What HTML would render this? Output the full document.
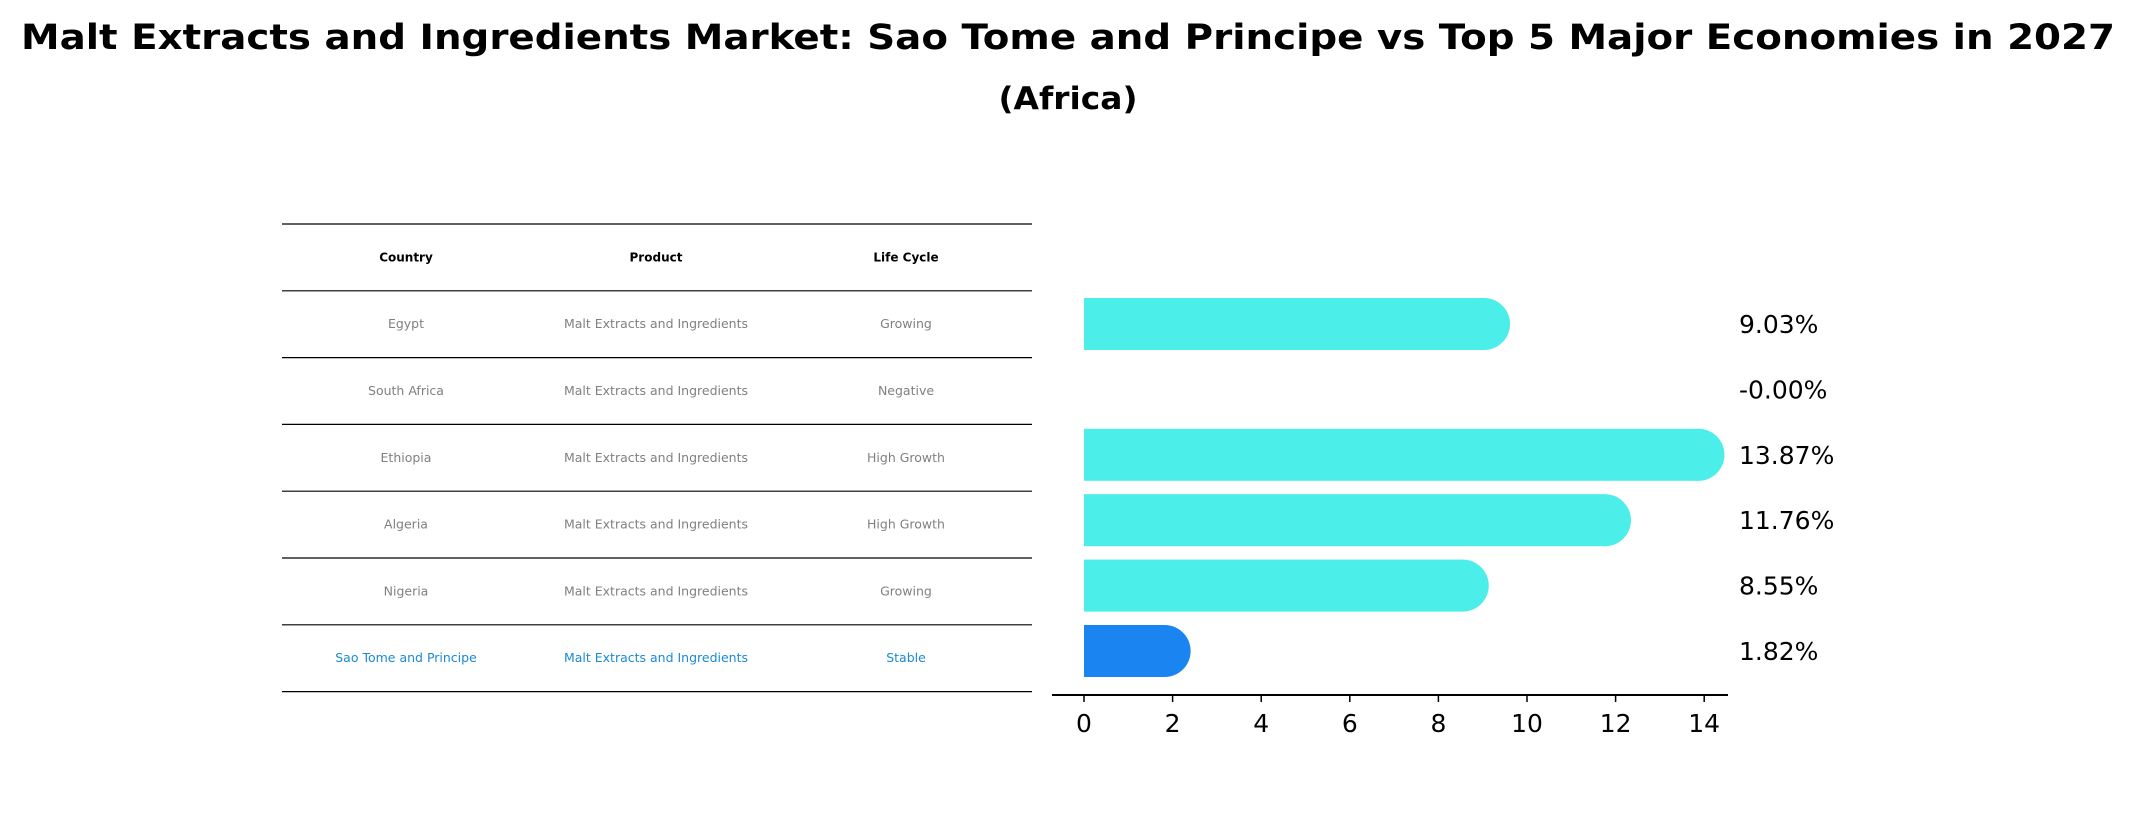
<!DOCTYPE html>
<html><head><meta charset="utf-8"><style>
body{margin:0;background:#fff;}
svg{display:block;font-family:"DejaVu Sans","Liberation Sans",sans-serif;}
</style></head><body>
<svg id="c" width="2137" height="823">
<text x="1068" y="49" text-anchor="middle" font-size="35" font-weight="bold" textLength="2094" lengthAdjust="spacingAndGlyphs">Malt Extracts and Ingredients Market: Sao Tome and Principe vs Top 5 Major Economies in 2027</text>
<text x="1068" y="109" text-anchor="middle" font-size="31" font-weight="bold" textLength="139" lengthAdjust="spacingAndGlyphs">(Africa)</text>
<g id="table"></g>
<g id="bars"></g>
</svg>
<script>
const countries=["Egypt","South Africa","Ethiopia","Algeria","Nigeria","Sao Tome and Principe"];
const products=["Malt Extracts and Ingredients","Malt Extracts and Ingredients","Malt Extracts and Ingredients","Malt Extracts and Ingredients","Malt Extracts and Ingredients","Malt Extracts and Ingredients"];
const lifeCycles=["Growing","Negative","High Growth","High Growth","Growing","Stable"];
const values=[9.03,-0.00,13.87,11.76,8.55,1.82];
const valueLabels=["9.03%","-0.00%","13.87%","11.76%","8.55%","1.82%"];
const xTicks=[0,2,4,6,8,10,12,14];

const NS="http://www.w3.org/2000/svg";
function mk(tag,attrs,parent,text){const e=document.createElementNS(NS,tag);for(const k in attrs)e.setAttribute(k,attrs[k]);if(text!==undefined)e.textContent=text;parent.appendChild(e);return e;}
const tbl=document.getElementById('table');
const rowH=66.8, tableTop=224, tx0=282, tx1=1032, cols=[406,656,906];
for(let i=0;i<=countries.length+1;i++){
  const l=mk('line',{x1:tx0,x2:tx1,y1:tableTop+i*rowH,y2:tableTop+i*rowH,stroke:'#000','stroke-width':1.2},tbl);
  
  
}
["Country","Product","Life Cycle"].forEach((h,j)=>{
  const t=mk('text',{x:cols[j],y:tableTop+rowH/2+4,'text-anchor':'middle','font-size':12,'font-weight':'bold'},tbl,h);
  
  
});
countries.forEach((c,i)=>{
  const y=tableTop+(i+1.5)*rowH+4;
  const col=i===countries.length-1?'#1a8ad4':'#808080';
  [c,products[i],lifeCycles[i]].forEach((v,j)=>{
    const t=mk('text',{x:cols[j],y:y,'text-anchor':'middle','font-size':12.5,fill:col},tbl,v);
    
    
  });
});
const bg=document.getElementById('bars');
const x0=1084, unit=44.3, axisY=695, bh=52;
const xs=v=>x0+v*unit;
const yc=i=>324+i*65.4;
values.forEach((v,i)=>{
  const cy=yc(i);
  const color=i===values.length-1?'#1a84f0':'#4beee8';
  if(v>0.001){
    const r=mk('rect',{x:x0,y:cy-bh/2,width:xs(v)-x0,height:bh,fill:color},bg);
    
    
    const cap=mk('circle',{cx:xs(v),cy:cy,r:bh/2,fill:color},bg);
    
    
  }
  const t=mk('text',{x:1739,y:cy+9,'font-size':25},bg,valueLabels[i]);
  
  
});
const ax=mk('line',{x1:1052,x2:1728,y1:axisY,y2:axisY,stroke:'#000','stroke-width':2},bg);


xTicks.forEach(v=>{
  const tk=mk('line',{x1:xs(v),x2:xs(v),y1:axisY,y2:axisY+7,stroke:'#000','stroke-width':1.5},bg);
  
  
  const t=mk('text',{x:xs(v),y:axisY+37,'text-anchor':'middle','font-size':25},bg,String(v));
  
  
});
</script>
</body></html>
